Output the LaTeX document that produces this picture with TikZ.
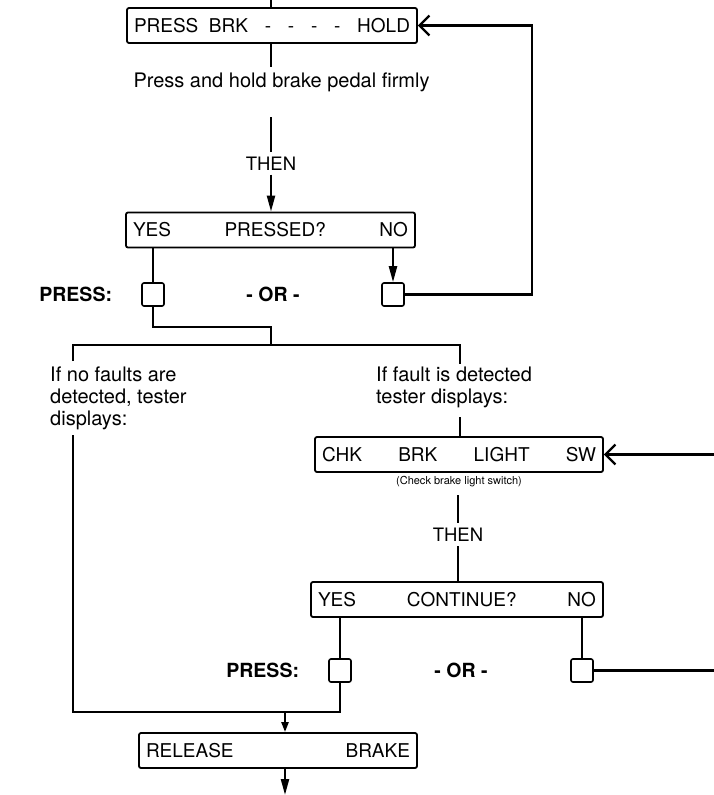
\documentclass[tikz,border=0pt]{standalone}
\usepackage{fontspec}
\setmainfont{TeX Gyre Heros}
\usetikzlibrary{arrows.meta, positioning, calc}

\newcommand{\spreadrow}[2]{\hbox to #1{#2}}

\begin{document}
\begin{tikzpicture}[
        x=1pt, y=-1pt,
        panel/.style={rectangle, draw, line width=1.8pt, rounded corners=2pt, inner xsep=7pt, inner ysep=0pt, minimum height=35pt, font=\fontsize{19}{22}\selectfont},
        keybox/.style={rectangle, draw, line width=1.6pt, rounded corners=2pt, minimum width=22pt, minimum height=23pt, inner sep=0pt},
        remark/.style={font=\fontsize{20}{22}\selectfont, inner sep=0pt, align=left},
        presslbl/.style={font=\bfseries\fontsize{19.5}{22}\selectfont, inner sep=0pt},
        thenlbl/.style={font=\fontsize{18.5}{22}\selectfont, inner sep=4.5pt},
        wire/.style={line width=2.2pt},
        arrow/.style={wire, -{Triangle[length=16pt, width=8pt]}},
        back/.style={wire, -{Straight Barb[length=10pt, width=20pt, line width=2.2pt]}}
    ]
        \useasboundingbox (0,0) rectangle (714,795);

        % brake pedal check
        \node[panel] (hold) at (272,25.5) {\spreadrow{276pt}{PRESS\ \ BRK\hfill-\hfill-\hfill-\hfill-\hfill HOLD}};
        \node[remark, anchor=base] (pedal) at (281.5,87.5) {Press and hold brake pedal firmly};
        \node[thenlbl, anchor=base] (then1) at (271,170) {THEN};
        \node[panel] (pressed) at (270.5,230) {\spreadrow{275pt}{YES\hfill PRESSED?\hfill NO}};
        \node[keybox] (yes1) at (153,294.5) {};
        \node[keybox] (no1) at (393,294.5) {};
        \node[presslbl, left=29pt of yes1] (press1) {PRESS:};
        \node[presslbl] (or1) at ($(yes1)!0.5!(no1)$) {- OR -};

        \coordinate (top) at (271,0);
        \coordinate (gap1) at (271,67);
        \coordinate (gap2) at (271,117);
        \coordinate (split) at (271,327);
        \coordinate (barL) at (73,345);
        \coordinate (barR) at (460,345);
        \coordinate (loop) at (532,25.5);

        % results
        \node[remark, anchor=north west] (okmsg) at (50,367) {If no faults are\\detected, tester\\displays:};
        \node[remark, anchor=north west] (faultmsg) at (376,367) {If fault is detected\\tester displays:};
        \node[panel] (chkbrk) at (459,454.5) {\spreadrow{274pt}{CHK\hfill BRK\hfill LIGHT\hfill SW}};
        \node[font=\fontsize{11}{13}\selectfont, inner sep=2pt, below=1pt of chkbrk] (chknote) {(Check brake light switch)};
        \node[thenlbl, anchor=base] (then2) at (458,541.5) {THEN};
        \node[panel] (cont) at (457,599.5) {\spreadrow{278pt}{YES\hfill CONTINUE?\hfill NO}};
        \node[keybox] (yes2) at (340,670.5) {};
        \node[keybox] (no2) at (582,670.5) {};
        \node[presslbl, left=29pt of yes2] (press2) {PRESS:};
        \node[presslbl] (or2) at ($(yes2)!0.5!(no2)$) {- OR -};
        \node[panel] (release) at (278,750.5) {\spreadrow{264pt}{RELEASE\hfill BRAKE}};

        \coordinate (gap3) at (458,495);
        \coordinate (edge1) at (714,454.5);
        \coordinate (edge2) at (714,670.5);
        \coordinate (joinL) at (73,712);
        \coordinate (joinM) at (285,712);
        \coordinate (joinR) at (340,712);
        \coordinate (exit) at (285,795);

        \draw[wire] (top) -- (top |- hold.north);
        \draw[wire] (hold.south -| top) -- (gap1);
        \draw[wire] (gap2) -- (then1);
        \draw[arrow] (then1) -- (then1 |- pressed.north);
        \draw[wire] (pressed.south -| yes1) -- (yes1);
        \draw[arrow] (pressed.south -| no1) -- (no1);
        \draw[back] (no1) -- (no1 -| loop) -- (loop) -- (hold);
        \draw[wire] (yes1) |- (split) -- (split |- barL);
        \draw[wire, shorten <=6pt, shorten >=3pt] (okmsg.north -| barL) -- (barL) -- (barR) -- (faultmsg.north -| barR);

        \draw[wire, shorten <=5pt] (okmsg.south -| barL) -- (joinL) -- (joinR) -- (yes2);
        \draw[wire, shorten <=9pt] (faultmsg.south -| barR) -- (barR |- chkbrk.north);
        \draw[back] (edge1) -- (chkbrk);
        \draw[wire] (gap3) -- (then2);
        \draw[wire] (then2) -- (then2 |- cont.north);
        \draw[wire] (cont.south -| yes2) -- (yes2);
        \draw[wire] (cont.south -| no2) -- (no2);
        \draw[wire] (no2) -- (edge2);
        \draw[wire, -{Triangle[length=10pt, width=7pt]}] (joinM) -- (joinM |- release.north);
        \draw[arrow] (release.south -| joinM) -- (exit);
    \end{tikzpicture}
\end{document}
